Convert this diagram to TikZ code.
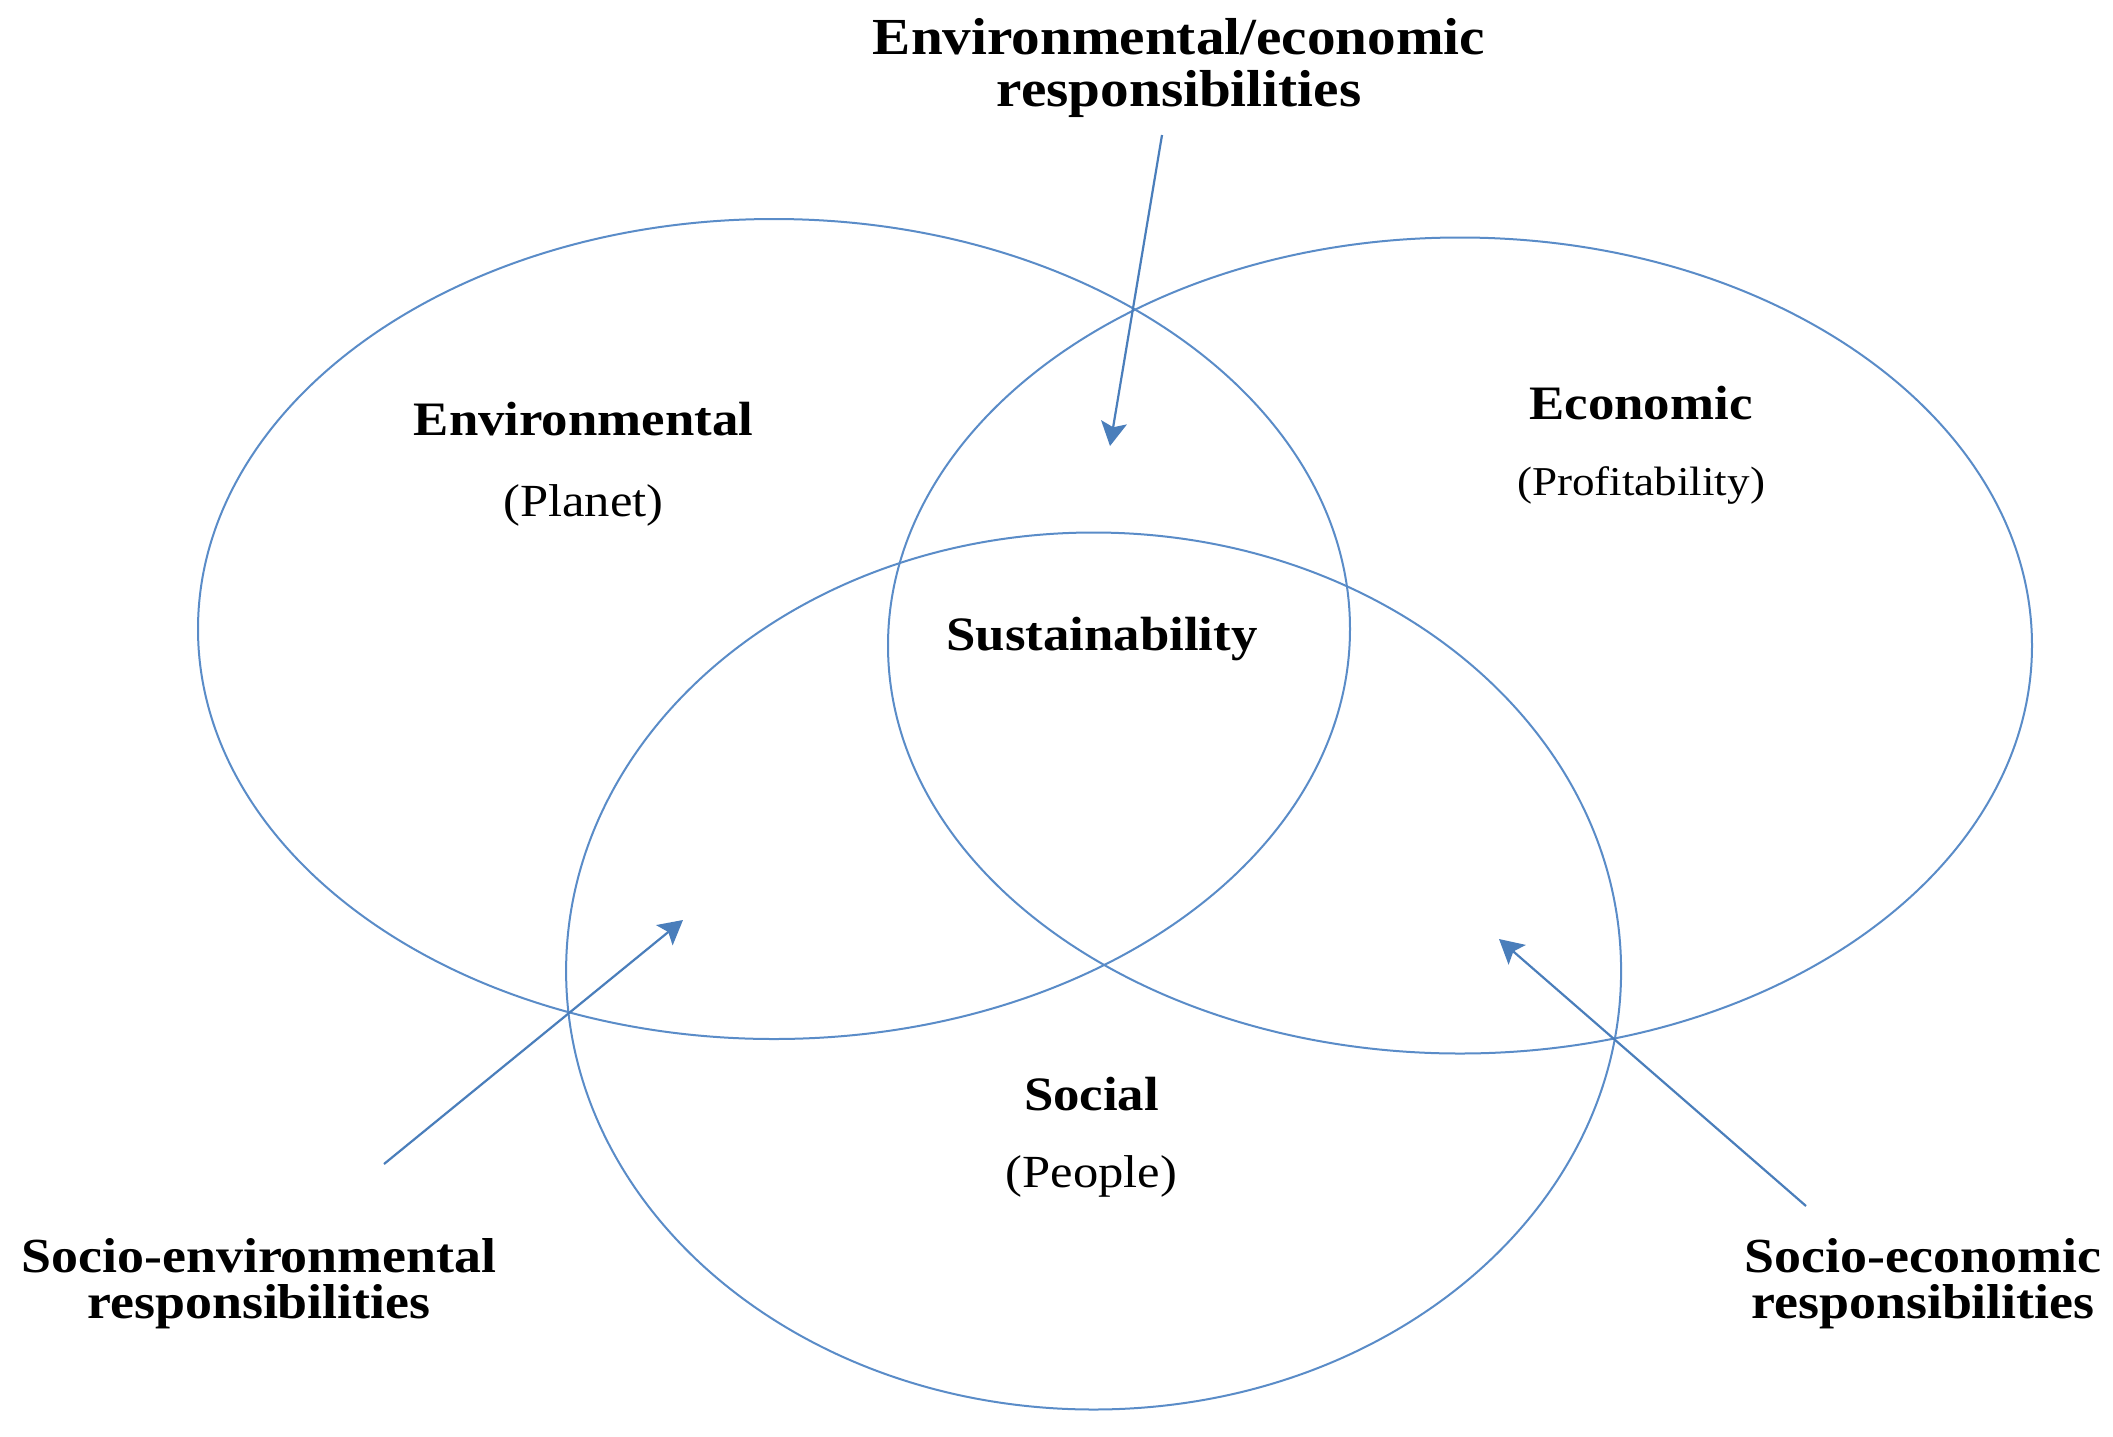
\documentclass[tikz,border=0pt]{standalone}
\usepackage{fontspec}
\setmainfont[FakeStretch=1.1]{Liberation Serif}
\usetikzlibrary{shapes.geometric,arrows.meta}
\definecolor{ringblue}{RGB}{90,140,200}
\definecolor{arrowblue}{RGB}{74,126,187}
\tikzset{
  ring/.style={ellipse, draw=ringblue, line width=2pt, inner sep=0pt},
  pointer/.style={draw=arrowblue, line width=2.2pt,
    -{Stealth[length=24pt,width=26pt,inset=5pt]}},
  toplabel/.style={align=center, font=\bfseries\fontsize{52}{52}\selectfont, inner sep=0pt},
  sidelabel/.style={align=center, font=\bfseries\fontsize{49}{46}\selectfont, inner sep=0pt},
  title/.style={font=\bfseries\fontsize{48}{48}\selectfont, inner sep=0pt},
  subtitle/.style={font=\fontsize{46}{46}\selectfont, inner sep=0pt}
}
\begin{document}
\begin{tikzpicture}[x=1pt,y=-1pt]
\useasboundingbox[fill=white] (0,0) rectangle (2113,1436);
% circles
\node[ring, minimum width=1152pt, minimum height=820pt] (env) at (774,629) {};
\node[ring, minimum width=1144pt, minimum height=816pt] (eco) at (1460,645.5) {};
\node[ring, minimum width=1055pt, minimum height=877pt] (soc) at (1093.6,971) {};
% labels
\node[title] (envt) at (583.5,419) {Environmental};
\node[subtitle] (envs) at (583.5,505) {(Planet)};
\node[title] (ecot) at (1641,403) {Economic};
\node[subtitle, font=\fontsize{41}{42}\selectfont] (ecos) at (1641,485) {(Profitability)};
\node[title] (sus) at (1102,639) {Sustainability};
\node[title] (soct) at (1091.5,1094) {Social};
\node[subtitle] (socs) at (1091.5,1176) {(People)};
\node[toplabel] (ee) at (1179,68) {Environmental/economic\\responsibilities};
\node[sidelabel] (se) at (259,1284) {Socio-environmental\\responsibilities};
\node[sidelabel] (sc) at (1923,1284) {Socio-economic\\responsibilities};
% arrow ends
\coordinate (eeA) at (1162,135);
\coordinate (eeB) at (1110,446);
\coordinate (seA) at (384,1164);
\coordinate (seB) at (683,920);
\coordinate (scA) at (1806,1206);
\coordinate (scB) at (1499,939);
\draw[pointer] (eeA) -- (eeB);
\draw[pointer] (seA) -- (seB);
\draw[pointer] (scA) -- (scB);
\end{tikzpicture}
\end{document}
